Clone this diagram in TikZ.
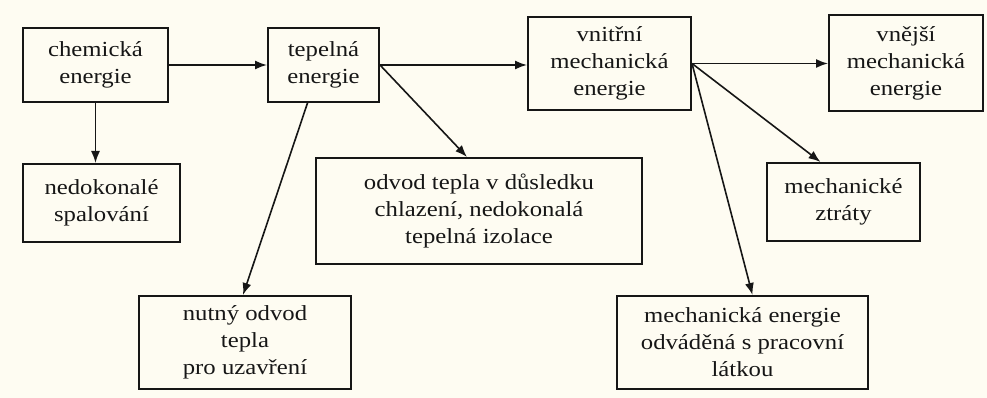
\documentclass[tikz,border=0pt]{standalone}
\usepackage{fontspec}
\setmainfont{Liberation Serif}[FakeStretch=1.15]
\usetikzlibrary{arrows.meta}
\definecolor{paper}{HTML}{FEFCF2}
\definecolor{ink}{HTML}{161616}
\begin{document}
\begin{tikzpicture}[x=1pt,y=-1pt,
  box/.style={draw=ink,line width=2pt,align=center,inner sep=2pt,text=ink,
    font=\fontsize{21.5}{27}\selectfont},
  flow/.style={draw=ink,line width=1.6pt,-{Latex[length=12pt,width=9pt]}}]
\fill[paper] (0,0) rectangle (987,398);
\useasboundingbox (0,0) rectangle (987,398);
\node[box,minimum width=145,minimum height=74] (chem) at (95.5,65) {chemická\\energie};
\node[box,minimum width=111,minimum height=74] (tep) at (323.5,65) {tepelná\\energie};
\node[box,minimum width=163,minimum height=93] (vnitr) at (609.5,63.5) {vnitřní\\mechanická\\energie};
\node[box,minimum width=154,minimum height=96] (vnejsi) at (906,63) {vnější\\mechanická\\energie};
\node[box,minimum width=157,minimum height=78] (nedok) at (101.5,203) {nedokonalé\\spalování};
\node[box,minimum width=326,minimum height=106] (odvod) at (479,211) {odvod tepla v důsledku\\chlazení, nedokonalá\\tepelná izolace};
\node[box,minimum width=153,minimum height=78] (mechz) at (843.5,202) {mechanické\\ztráty};
\node[box,minimum width=212,minimum height=93] (nutny) at (245,342.5) {nutný odvod\\tepla\\pro uzavření};
\node[box,minimum width=251,minimum height=93] (mechen) at (742.5,342.5) {mechanická energie\\odváděná s pracovní\\látkou};
% hlavni tok
\draw[flow] (chem.east) -- (chem.east -| tep.west);
\draw[flow] (tep.east) -- (tep.east -| vnitr.west);
\draw[flow] (vnitr.east) -- (vnitr.east -| vnejsi.west);
% ztraty
\draw[flow] (chem.south) -- (chem.south |- nedok.north);
\draw[flow] ([xshift=-16]tep.south) -- ([xshift=-2]nutny.north);
\draw[flow] (tep.east) -- ([xshift=-12]odvod.north);
\draw[flow] (vnitr.east) -- ([xshift=-23]mechz.north);
\draw[flow] (vnitr.east) -- ([xshift=10]mechen.north);
\end{tikzpicture}
\end{document}
